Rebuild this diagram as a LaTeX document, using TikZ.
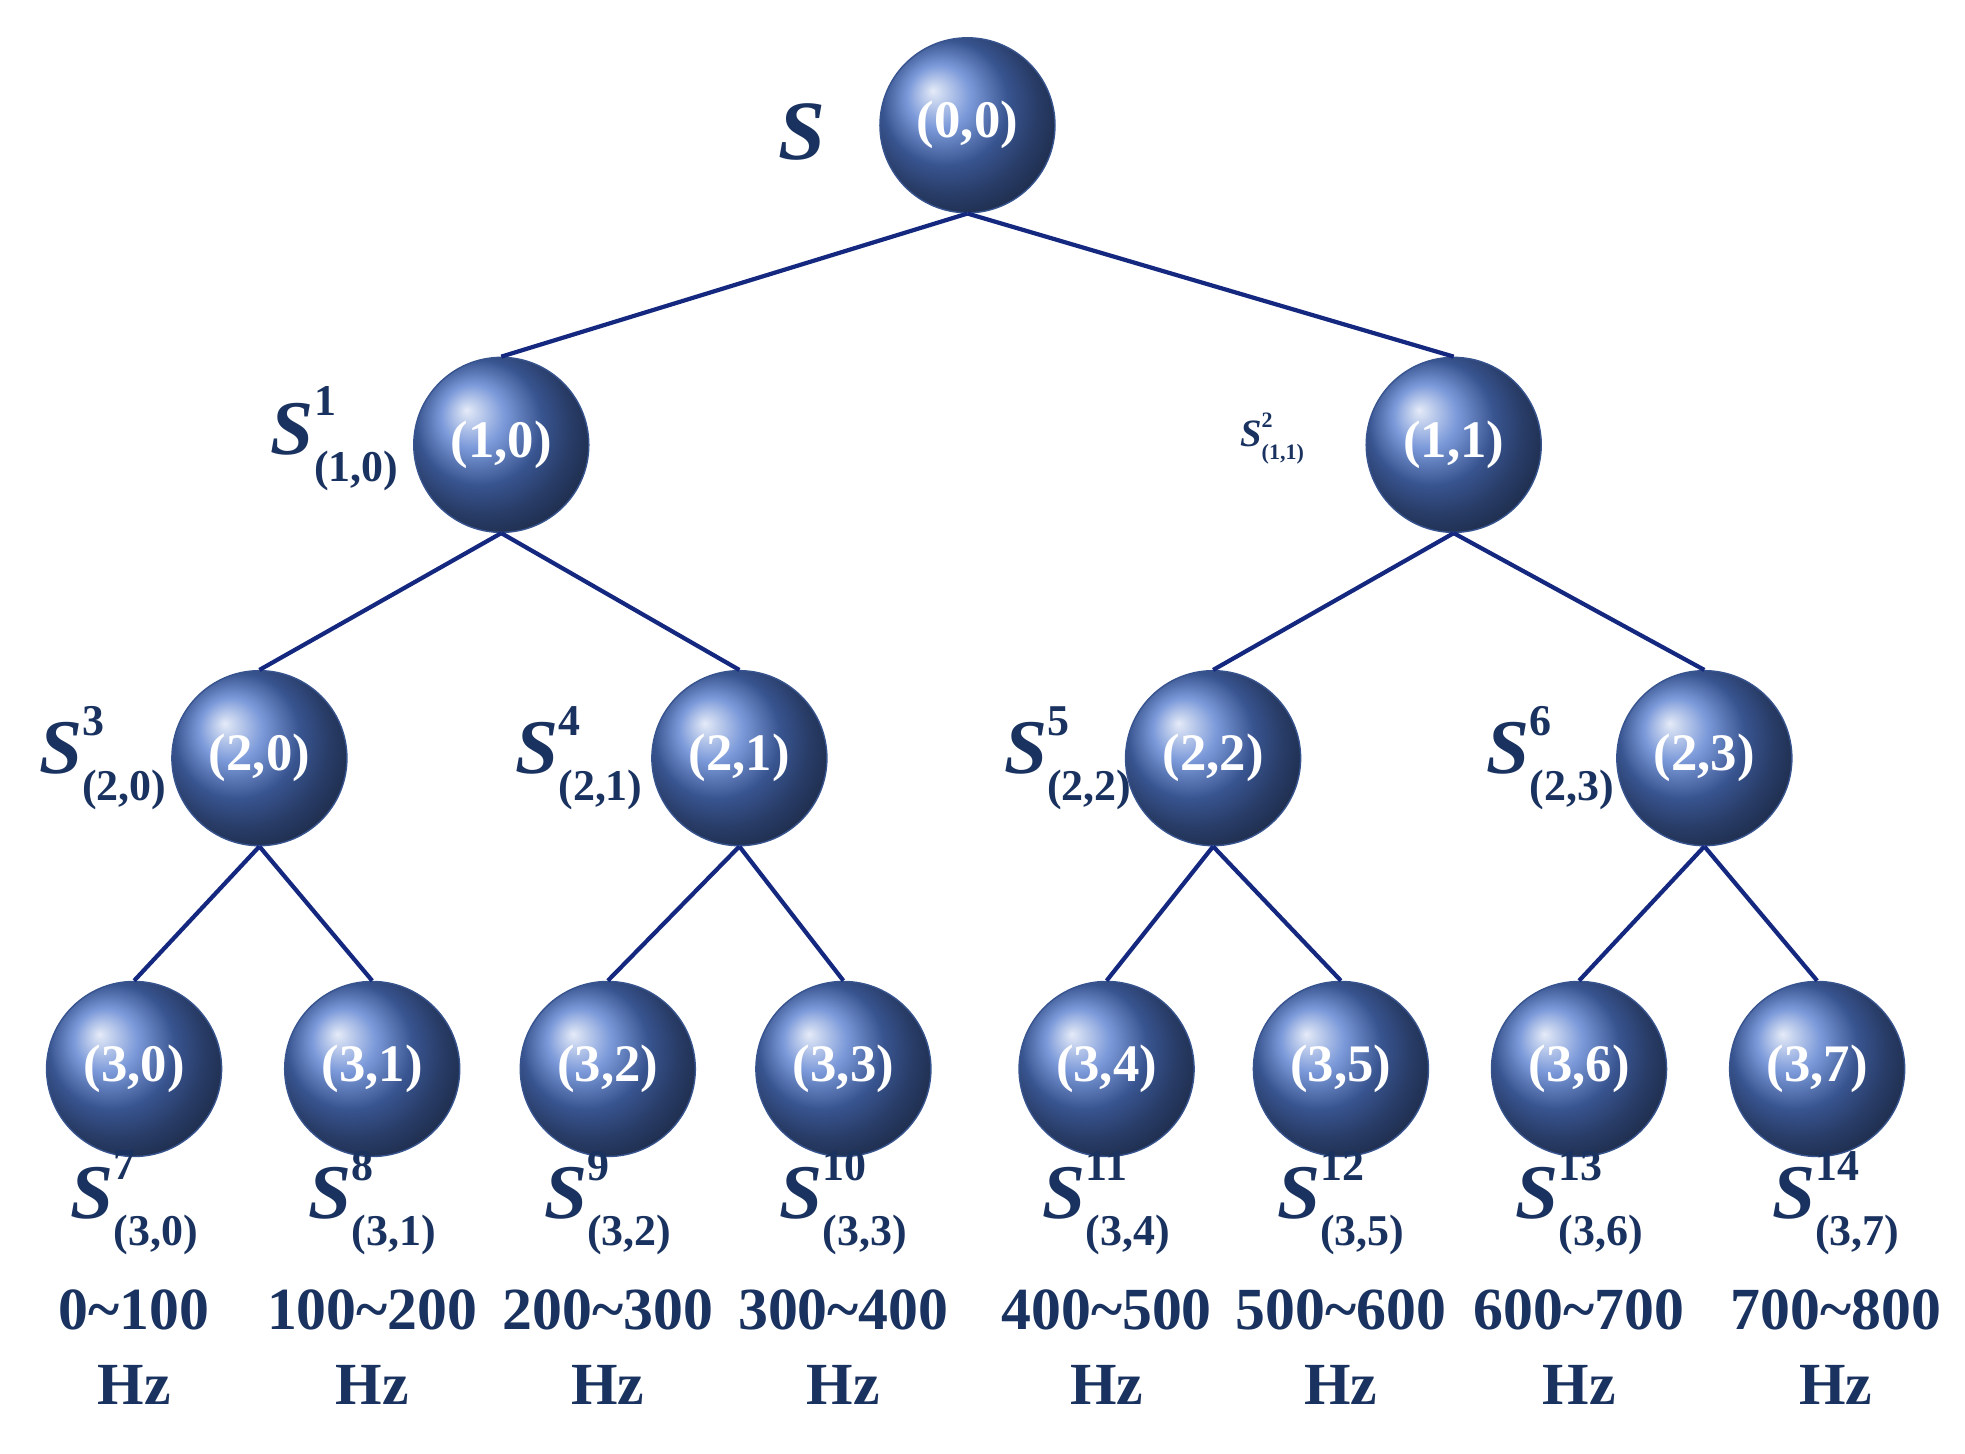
\documentclass[tikz,border=0pt]{standalone}
\usepackage{fontspec}
\setmainfont{Liberation Serif}
\usepackage{xcolor}
\definecolor{navy}{RGB}{25, 50, 95}
\definecolor{ballblue}{RGB}{80, 120, 205}
\usetikzlibrary{calc}
\newcommand\slbl[2]{\textit{S}\rlap{\raisebox{0.5em}{\fontsize{12.5}{13}\selectfont #1}}%
  \raisebox{-0.35em}{\fontsize{12.5}{13}\selectfont #2}}

\tikzset{
  band/.style={circle, minimum size=1.75cm, inner sep=0pt, shading=ball, ball color=ballblue,
    draw=ballblue!70!black, thin, text=white, font=\bfseries\fontsize{15}{17}\selectfont},
  lbl/.style={text=navy, font=\bfseries\fontsize{22}{24}\selectfont},
  freq/.style={text=navy, font=\bfseries\fontsize{17}{19}\selectfont},
  edge/.style={draw=navy!80!blue, line width=1.2pt}
}

\begin{document}
\begin{tikzpicture}[x=0.01253cm, y=-0.01253cm]
  \useasboundingbox (0,0) rectangle (1568,1160);
  \node[band] (n00) at (772,100) {(0,0)};
  \node[band] (n10) at (400,355) {(1,0)};
  \node[band] (n11) at (1160,355) {(1,1)};
  \foreach \X/\P in {207/0,590/1,968/2,1360/3}
    \node[band] (n2\P) at (\X,605) {(2,\P)};
  \foreach \X/\P in {107/0,297/1,485/2,673/3,883/4,1070/5,1260/6,1450/7}
    \node[band] (n3\P) at (\X,853) {(3,\P)};
  % tree edges
  \draw[edge] (n00.south) -- (n10.north);
  \draw[edge] (n00.south) -- (n11.north);
  \draw[edge] (n10.south) -- (n20.north);
  \draw[edge] (n10.south) -- (n21.north);
  \draw[edge] (n11.south) -- (n22.north);
  \draw[edge] (n11.south) -- (n23.north);
  \foreach \A/\B/\C in {0/0/1,1/2/3,2/4/5,3/6/7} {
    \draw[edge] (n2\A.south) -- (n3\B.north);
    \draw[edge] (n2\A.south) -- (n3\C.north);
  }
  % labels
  \node[lbl, font=\bfseries\itshape\fontsize{24}{26}\selectfont] (l0) at (640,105) {S};
  \node[lbl] (l1) at (267,350) {\slbl{1}{(1,0)}};
  \node[lbl, scale=0.5] (l2) at (1015,350) {\slbl{2}{(1,1)}};
  \foreach \X/\N/\P in {82/3/0,462/4/1,852/5/2,1237/6/3}
    \node[lbl] (l\N) at (\X,605) {\slbl{\N}{(2,\P)}};
  \foreach \X/\N/\P/\F in {107/7/0/0\textasciitilde100,297/8/1/100\textasciitilde200,485/9/2/200\textasciitilde300,
      673/10/3/300\textasciitilde400,883/11/4/400\textasciitilde500,1070/12/5/500\textasciitilde600,
      1260/13/6/600\textasciitilde700,1465/14/7/700\textasciitilde800} {
    \node[lbl] (l\N) at (\X,960) {\slbl{\N}{(3,\P)}};
    \node[freq] (f\N) at (\X,1045) {\F};
    \node[freq] (h\N) at (\X,1105) {Hz};
  }
\end{tikzpicture}
\end{document}
